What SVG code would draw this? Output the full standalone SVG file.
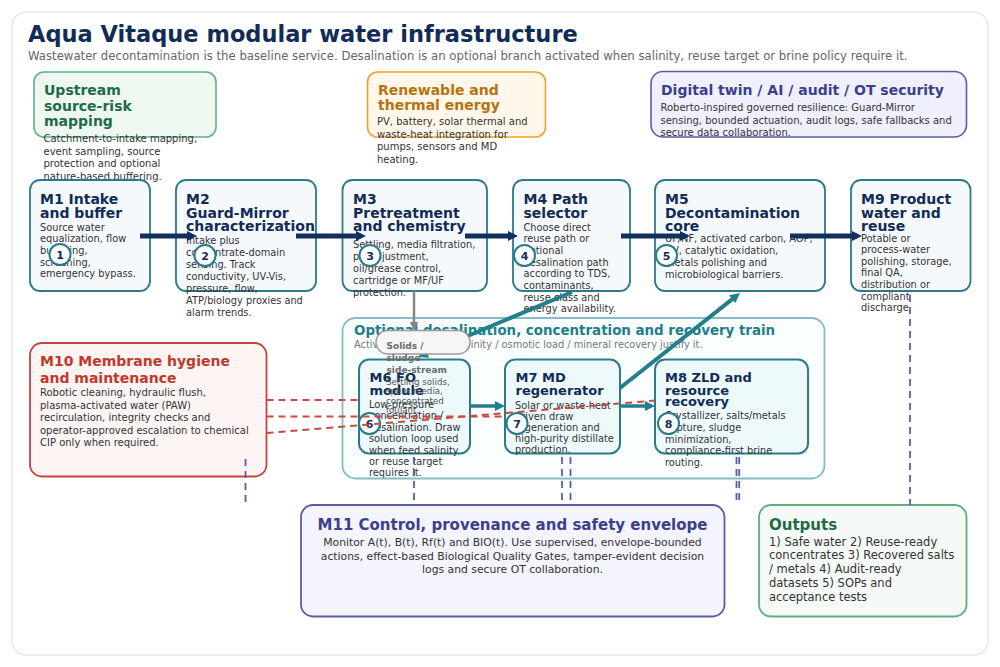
<svg xmlns="http://www.w3.org/2000/svg" width="1000" height="667" viewBox="0 0 1000 667">
<defs>
<style>
text{font-family:"DejaVu Sans","Liberation Sans",sans-serif}
.ttl{font-size:22.5px;font-weight:bold;fill:#102c57}
.sub{font-size:11.7px;fill:#666}
.nt{font-size:14px;font-weight:bold;fill:#102c57}
.tt{font-size:13px;font-weight:bold;fill:#102c57}
.nb{font-size:9.8px;fill:#333}
.cb{font-size:10px;fill:#333}
.main{fill:#f6f9fc;stroke:#2b7a8c;stroke-width:1.8}
.trn{fill:#edf9fb;stroke:#2a7d88;stroke-width:2}
.num circle{fill:#fff;stroke:#2b7a8c;stroke-width:2}
.num text{font-size:11px;font-weight:bold;fill:#102c57;text-anchor:middle}
.navy{stroke:#12305c;stroke-width:4.8;fill:none}
.teal{stroke:#237f8c;stroke-width:4;fill:none}
.gray{stroke:#858585;stroke-width:2.5;fill:none}
.red{stroke:#c94a40;stroke-width:2;fill:none;stroke-dasharray:7 5}
.pur{stroke:#5b5ea6;stroke-width:1.8;fill:none;stroke-dasharray:7 5}
</style>
<marker id="an" viewBox="0 0 10 10" refX="5" refY="5" markerWidth="10" markerHeight="10" markerUnits="userSpaceOnUse" orient="auto"><path d="M0,0 L10,5 L0,10 z" fill="#12305c"/></marker>
<marker id="at" viewBox="0 0 10 10" refX="5" refY="5" markerWidth="10" markerHeight="10" markerUnits="userSpaceOnUse" orient="auto"><path d="M0,0 L10,5 L0,10 z" fill="#237f8c"/></marker>
<marker id="ag" viewBox="0 0 10 10" refX="5" refY="5" markerWidth="9" markerHeight="9" markerUnits="userSpaceOnUse" orient="auto"><path d="M0,0 L10,5 L0,10 z" fill="#858585"/></marker>
</defs>

<rect x="12" y="12" width="976" height="643" rx="14" fill="#fff" stroke="#e2e2e2" stroke-width="1.2"/>
<text class="ttl" x="28" y="41.5">Aqua Vitaque modular water infrastructure</text>
<text class="sub" x="28" y="59.5">Wastewater decontamination is the baseline service. Desalination is an optional branch activated when salinity, reuse target or brine policy require it.</text>

<g id="upstream">
<rect x="34" y="72" width="182" height="65" rx="10" fill="#eef8f1" stroke="#5fb386" stroke-width="1.6"/>
<text class="nt" style="fill:#1f6b45"><tspan x="44" y="95">Upstream</tspan><tspan x="44" y="110.5">source-risk</tspan><tspan x="44" y="126">mapping</tspan></text>
<text class="cb"><tspan x="43.5" y="142">Catchment-to-intake mapping,</tspan><tspan x="43.5" y="154.5">event sampling, source</tspan><tspan x="43.5" y="167">protection and optional</tspan><tspan x="43.5" y="179.5">nature-based buffering.</tspan></text>
</g>

<g id="energy">
<rect x="367.5" y="72" width="178" height="65" rx="10" fill="#fff8ea" stroke="#f0a22a" stroke-width="1.6"/>
<text class="nt" style="fill:#b8720f"><tspan x="378" y="95">Renewable and</tspan><tspan x="378" y="109.5">thermal energy</tspan></text>
<text class="cb"><tspan x="377" y="125">PV, battery, solar thermal and</tspan><tspan x="377" y="137.5">waste-heat integration for</tspan><tspan x="377" y="150">pumps, sensors and MD</tspan><tspan x="377" y="162.5">heating.</tspan></text>
</g>

<g id="digital">
<rect x="651" y="71.5" width="315.5" height="65.5" rx="12" fill="#eff0fb" stroke="#5b5ea6" stroke-width="1.6"/>
<text class="nt" style="fill:#3b3f8c" x="661" y="95">Digital twin / AI / audit / OT security</text>
<text class="cb"><tspan x="660.5" y="111">Roberto-inspired governed resilience: Guard-Mirror</tspan><tspan x="660.5" y="123.5">sensing, bounded actuation, audit logs, safe fallbacks and</tspan><tspan x="660.5" y="136">secure data collaboration.</tspan></text>
</g>

<g id="train">
<rect x="342.5" y="318" width="482" height="160.5" rx="13" fill="#fafeff" stroke="#86bcc4" stroke-width="1.8"/>
<text x="354" y="335" style="font-size:13.4px;font-weight:bold;fill:#217e8a">Optional desalination, concentration and recovery train</text>
<text x="354" y="348" style="font-size:9.8px;fill:#777">Activated only when salinity / osmotic load / mineral recovery justify it.</text>
</g>

<g id="m1">
<rect class="main" x="30" y="180" width="120" height="111" rx="10"/>
<text class="nt"><tspan x="40" y="204">M1 Intake</tspan><tspan x="40" y="217.5">and buffer</tspan></text>
<text class="nb"><tspan x="40" y="230.5">Source water</tspan><tspan x="40" y="242.2">equalization, flow</tspan><tspan x="40" y="253.9">buffering,</tspan><tspan x="40" y="265.6">screening,</tspan><tspan x="40" y="277.3">emergency bypass.</tspan></text>
<g class="num"><circle cx="60" cy="254.5" r="10.5"/><text x="60" y="258.5">1</text></g>
</g>

<g id="m2">
<rect class="main" x="176" y="180" width="140" height="111" rx="10"/>
<text class="nt"><tspan x="186" y="204">M2</tspan><tspan x="186" y="217.5">Guard-Mirror</tspan><tspan x="186" y="231">characterization</tspan></text>
<text class="nb"><tspan x="186" y="244">Intake plus</tspan><tspan x="186" y="256">concentrate-domain</tspan><tspan x="186" y="268">sensing. Track</tspan><tspan x="186" y="280">conductivity, UV-Vis,</tspan><tspan x="186" y="292">pressure, flow,</tspan><tspan x="186" y="304">ATP/biology proxies and</tspan><tspan x="186" y="316">alarm trends.</tspan></text>
<g class="num"><circle cx="205" cy="255.5" r="10.5"/><text x="205" y="259.5">2</text></g>
</g>

<g id="m3">
<rect class="main" x="342.5" y="180" width="144.5" height="111" rx="10"/>
<text class="nt"><tspan x="353" y="204">M3</tspan><tspan x="353" y="217.5">Pretreatment</tspan><tspan x="353" y="231">and chemistry</tspan></text>
<text class="nb"><tspan x="353" y="247.5">Settling, media filtration,</tspan><tspan x="353" y="259.7">pH adjustment,</tspan><tspan x="353" y="271.9">oil/grease control,</tspan><tspan x="353" y="284.1">cartridge or MF/UF</tspan><tspan x="353" y="296.3">protection.</tspan></text>
<g class="num"><circle cx="370" cy="255.5" r="10.5"/><text x="370" y="259.5">3</text></g>
</g>

<g id="m4">
<rect class="main" x="513" y="180" width="117" height="111" rx="10"/>
<text class="nt"><tspan x="523.5" y="204">M4 Path</tspan><tspan x="523.5" y="217.5">selector</tspan></text>
<text class="nb"><tspan x="523.5" y="230.5">Choose direct</tspan><tspan x="523.5" y="242.2">reuse path or</tspan><tspan x="523.5" y="253.9">optional</tspan><tspan x="523.5" y="265.6">desalination path</tspan><tspan x="523.5" y="277.3">according to TDS,</tspan><tspan x="523.5" y="289">contaminants,</tspan><tspan x="523.5" y="300.7">reuse class and</tspan><tspan x="523.5" y="312.4">energy availability.</tspan></text>
<g class="num"><circle cx="524.5" cy="255.5" r="10.5"/><text x="524.5" y="259.5">4</text></g>
</g>

<g id="m5">
<rect class="main" x="655" y="180" width="170" height="111" rx="10"/>
<text class="nt"><tspan x="665" y="204">M5</tspan><tspan x="665" y="217.5">Decontamination</tspan><tspan x="665" y="231">core</tspan></text>
<text class="nb"><tspan x="665" y="241.5">UF/NF, activated carbon, AOP,</tspan><tspan x="665" y="253.5">UV, catalytic oxidation,</tspan><tspan x="665" y="265.5">metals polishing and</tspan><tspan x="665" y="277.5">microbiological barriers.</tspan></text>
<g class="num"><circle cx="666.5" cy="255.5" r="10.5"/><text x="666.5" y="259.5">5</text></g>
</g>

<g id="m9">
<rect class="main" x="851" y="180" width="119.5" height="111" rx="10"/>
<text class="nt"><tspan x="861" y="204">M9 Product</tspan><tspan x="861" y="217.5">water and</tspan><tspan x="861" y="231">reuse</tspan></text>
<text class="nb"><tspan x="861" y="241.5">Potable or</tspan><tspan x="861" y="253.1">process-water</tspan><tspan x="861" y="264.7">polishing, storage,</tspan><tspan x="861" y="276.3">final QA,</tspan><tspan x="861" y="287.9">distribution or</tspan><tspan x="861" y="299.5">compliant</tspan><tspan x="861" y="311.1">discharge</tspan></text>
</g>

<g id="m6">
<rect class="trn" x="359" y="359.5" width="111" height="94" rx="10"/>
<text class="tt"><tspan x="369.5" y="382">M6 FO</tspan><tspan x="369.5" y="394.5">module</tspan></text>
<text class="nb"><tspan x="369" y="408">Low-pressure</tspan><tspan x="369" y="419.4">concentration /</tspan><tspan x="369" y="430.8">desalination. Draw</tspan><tspan x="369" y="442.2">solution loop used</tspan><tspan x="369" y="453.6">when feed salinity</tspan><tspan x="369" y="465">or reuse target</tspan><tspan x="369" y="476.4">requires it.</tspan></text>
<g class="num"><circle cx="369.5" cy="423.5" r="10.5"/><text x="369.5" y="427.5">6</text></g>
</g>

<g id="m7">
<rect class="trn" x="505" y="359.5" width="115" height="94" rx="10"/>
<text class="tt"><tspan x="515.5" y="382">M7 MD</tspan><tspan x="515.5" y="394.5">regenerator</tspan></text>
<text class="nb"><tspan x="515" y="409">Solar or waste-heat</tspan><tspan x="515" y="420.1">driven draw</tspan><tspan x="515" y="431.2">regeneration and</tspan><tspan x="515" y="442.3">high-purity distillate</tspan><tspan x="515" y="453.4">production.</tspan></text>
<g class="num"><circle cx="517" cy="423.5" r="10.5"/><text x="517" y="427.5">7</text></g>
</g>

<g id="m8">
<rect class="trn" x="655" y="359.5" width="153" height="94" rx="10"/>
<text class="tt"><tspan x="665" y="382">M8 ZLD and</tspan><tspan x="665" y="394.5">resource</tspan><tspan x="665" y="406">recovery</tspan></text>
<text class="nb"><tspan x="665" y="419">Crystallizer, salts/metals</tspan><tspan x="665" y="430.8">capture, sludge</tspan><tspan x="665" y="442.6">minimization,</tspan><tspan x="665" y="454.4">compliance-first brine</tspan><tspan x="665" y="466.2">routing.</tspan></text>
<g class="num"><circle cx="668.5" cy="423.5" r="10.5"/><text x="668.5" y="427.5">8</text></g>
</g>

<g id="m10">
<rect x="30" y="343" width="236.5" height="133.5" rx="12" fill="#fdf4f4" stroke="#c4453c" stroke-width="1.8"/>
<text class="nt" style="fill:#c0392b"><tspan x="40" y="366">M10 Membrane hygiene</tspan><tspan x="40" y="383">and maintenance</tspan></text>
<text class="cb"><tspan x="40" y="396">Robotic cleaning, hydraulic flush,</tspan><tspan x="40" y="408.5">plasma-activated water (PAW)</tspan><tspan x="40" y="421">recirculation, integrity checks and</tspan><tspan x="40" y="433.5">operator-approved escalation to chemical</tspan><tspan x="40" y="446">CIP only when required.</tspan></text>
</g>

<g id="m11">
<rect x="301" y="505" width="423.5" height="111.5" rx="12" fill="#f3f4fc" stroke="#5b5ea6" stroke-width="1.8"/>
<text x="512.5" y="529.5" text-anchor="middle" style="font-size:15px;font-weight:bold;fill:#3b3f8c">M11 Control, provenance and safety envelope</text>
<text text-anchor="middle" style="font-size:10.8px;fill:#333"><tspan x="512.5" y="546">Monitor A(t), B(t), Rf(t) and BIO(t). Use supervised, envelope-bounded</tspan><tspan x="512.5" y="559.5">actions, effect-based Biological Quality Gates, tamper-evident decision</tspan><tspan x="512.5" y="573">logs and secure OT collaboration.</tspan></text>
</g>

<g id="outputs">
<rect x="759" y="505" width="207.5" height="111.5" rx="12" fill="#f6faf6" stroke="#5fae80" stroke-width="1.8"/>
<text x="769" y="530" style="font-size:15px;font-weight:bold;fill:#1f6b45">Outputs</text>
<text style="font-size:11.5px;fill:#333"><tspan x="769" y="545.5">1) Safe water 2) Reuse-ready</tspan><tspan x="769" y="559.3">concentrates 3) Recovered salts</tspan><tspan x="769" y="573.1">/ metals 4) Audit-ready</tspan><tspan x="769" y="586.9">datasets 5) SOPs and</tspan><tspan x="769" y="600.7">acceptance tests</tspan></text>
</g>

<g id="connectors">
<line class="navy" x1="140" y1="236" x2="192" y2="236" marker-end="url(#an)"/>
<line class="navy" x1="296" y1="236" x2="361" y2="236" marker-end="url(#an)"/>
<line class="navy" x1="465" y1="236" x2="513" y2="236" marker-end="url(#an)"/>
<line class="navy" x1="621" y1="236" x2="685" y2="236" marker-end="url(#an)"/>
<line class="navy" x1="790" y1="236" x2="857" y2="236" marker-end="url(#an)"/>
<line class="gray" x1="414" y1="291" x2="414" y2="326" marker-end="url(#ag)"/>
<line class="teal" x1="572" y1="292" x2="422.6" y2="355" marker-end="url(#at)"/>
<line class="teal" x1="620" y1="388" x2="736.1" y2="296.1" marker-end="url(#at)"/>
<line class="teal" style="stroke-width:3.5" x1="470" y1="406" x2="500" y2="406" marker-end="url(#at)"/>
<line class="teal" style="stroke-width:3.5" x1="620" y1="406" x2="650" y2="406" marker-end="url(#at)"/>
<line class="red" x1="266.5" y1="400" x2="359" y2="400"/>
<line class="red" x1="266.5" y1="416.5" x2="505" y2="416.5"/>
<line class="red" x1="266.5" y1="433" x2="655" y2="400.5"/>
<line class="pur" x1="245.5" y1="459" x2="245.5" y2="504"/>
<line class="pur" x1="414" y1="457" x2="414" y2="505"/>
<line class="pur" x1="562" y1="457" x2="562" y2="505"/>
<line class="pur" x1="570.5" y1="457" x2="570.5" y2="505"/>
<line class="pur" x1="736.5" y1="457" x2="736.5" y2="504"/>
<line class="pur" x1="739.2" y1="457" x2="739.2" y2="504"/>
<line class="pur" x1="910" y1="295" x2="910" y2="505"/>
</g>

<g id="solids">
<rect x="376" y="330.5" width="94" height="23.5" rx="11.75" fill="#f6f6f6" stroke="#9a9a9a" stroke-width="1.5"/>
<text style="font-size:9px;font-weight:bold;fill:#6b6b6b"><tspan x="386.5" y="349">Solids /</tspan><tspan x="386.5" y="361">sludge</tspan><tspan x="386.5" y="373">side-stream</tspan></text>
<text style="font-size:8.7px;fill:#555"><tspan x="386" y="384.5">Settling solids,</tspan><tspan x="386" y="394">spent media,</tspan><tspan x="386" y="403.5">concentrated</tspan><tspan x="386" y="413">foulant.</tspan></text>
</g>
</svg>
